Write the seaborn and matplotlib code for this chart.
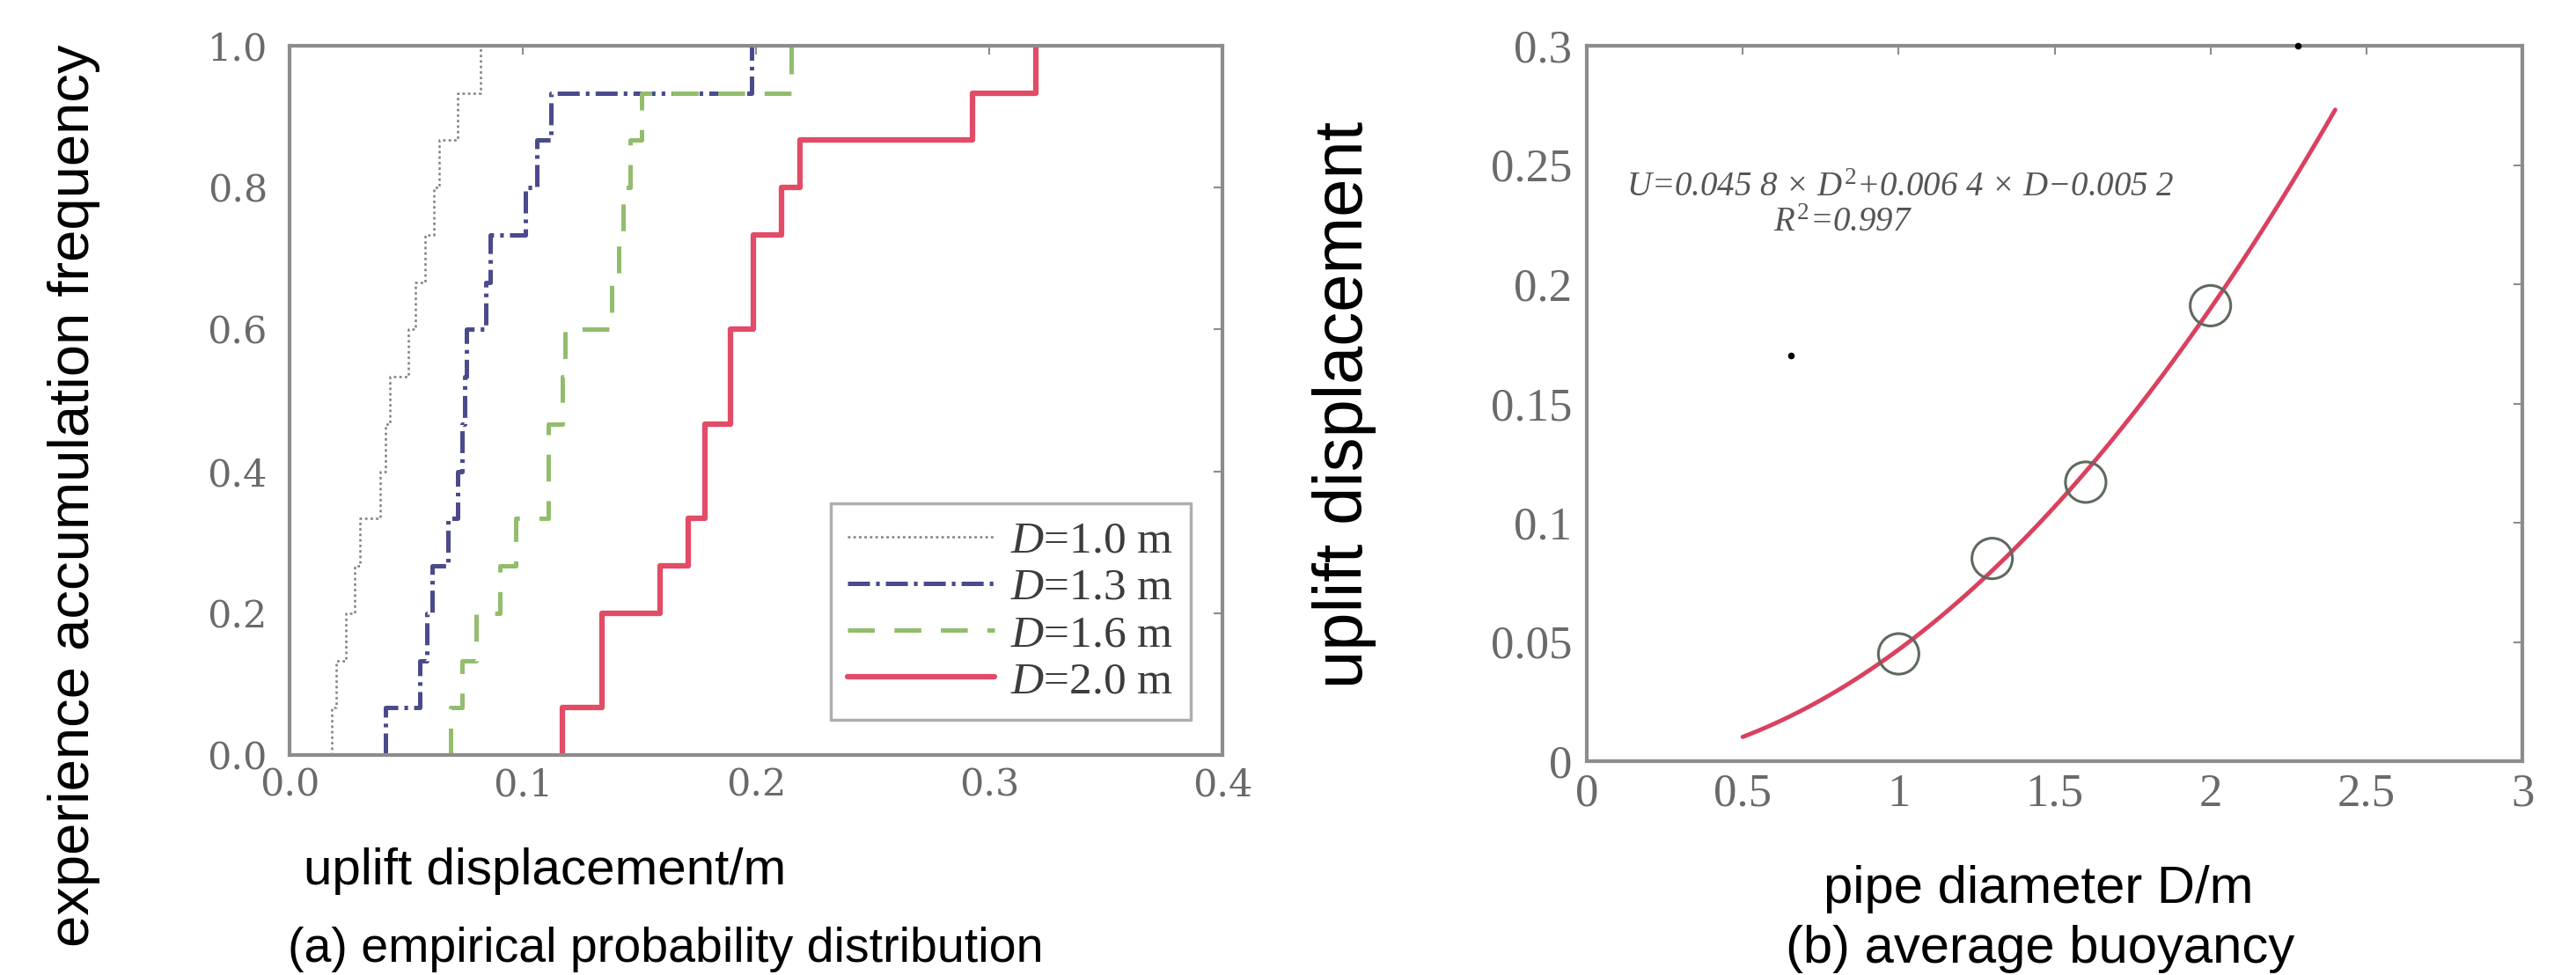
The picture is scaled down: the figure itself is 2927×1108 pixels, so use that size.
import numpy as np
import pandas as pd
import matplotlib
matplotlib.use("Agg")
import matplotlib.pyplot as plt
import seaborn as sns

# ---------------- data ----------------
# (a) uplift displacement samples (m) for each pipe diameter, 15 samples each
uplift_d10 = [0.018, 0.020, 0.024, 0.028, 0.030, 0.039, 0.041, 0.043,
              0.051, 0.054, 0.058, 0.062, 0.064, 0.072, 0.082]
uplift_d13 = [0.041, 0.056, 0.059, 0.061, 0.068, 0.072, 0.074, 0.075,
              0.076, 0.084, 0.086, 0.101, 0.106, 0.112, 0.198]
uplift_d16 = [0.069, 0.074, 0.080, 0.090, 0.097, 0.111, 0.111, 0.117,
              0.118, 0.138, 0.141, 0.143, 0.146, 0.151, 0.215]
uplift_d20 = [0.117, 0.134, 0.134, 0.159, 0.171, 0.178, 0.178, 0.189,
              0.189, 0.199, 0.199, 0.211, 0.219, 0.293, 0.320]
series_labels = [r"$D$=1.0 m", r"$D$=1.3 m", r"$D$=1.6 m", r"$D$=2.0 m"]

# (b) average uplift vs pipe diameter
pipe_diameter = [1.0, 1.3, 1.6, 2.0]
mean_uplift = [0.045, 0.085, 0.117, 0.191]
fit_span = [0.5, 2.4]
stray_x = [0.655, 2.28]
stray_y = [0.170, 0.300]
equation_line1 = "$U$=0.045 8 × $D^2$+0.006 4 × $D$−0.005 2"
equation_line2 = "$R^2$=0.997"

a_xticks = [0.0, 0.1, 0.2, 0.3, 0.4]
a_xticklabels = ["0.0", "0.1", "0.2", "0.3", "0.4"]
a_yticks = [0.0, 0.2, 0.4, 0.6, 0.8, 1.0]
a_yticklabels = ["0.0", "0.2", "0.4", "0.6", "0.8", "1.0"]
b_xticks = [0, 0.5, 1, 1.5, 2, 2.5, 3]
b_xticklabels = ["0", "0.5", "1", "1.5", "2", "2.5", "3"]
b_yticks = [0, 0.05, 0.1, 0.15, 0.2, 0.25, 0.3]
b_yticklabels = ["0", "0.05", "0.1", "0.15", "0.2", "0.25", "0.3"]

# ---------------- style ----------------
sns.set_theme(style="white")
plt.rcParams['font.family'] = ['Liberation Sans', 'DejaVu Sans']
plt.rcParams['lines.scale_dashes'] = False
plt.rcParams['mathtext.fontset'] = 'custom'
plt.rcParams['mathtext.it'] = 'Liberation Serif:italic'
plt.rcParams['mathtext.rm'] = 'Liberation Serif'

W, H = 2927, 1108
fig = plt.figure(figsize=(W / 100, H / 100), dpi=100)
fig.patch.set_facecolor("white")


def px_axes(x0, y0, x1, y1):
    return fig.add_axes([x0 / W, 1 - y1 / H, (x1 - x0) / W, (y1 - y0) / H])


ax1 = px_axes(329, 52, 1389, 858)
ax2 = px_axes(1803, 52, 2866, 865)

spine_c = "#8c8c8c"
tick_c = "#6a6a6a"
for ax in (ax1, ax2):
    for s in ax.spines.values():
        s.set_color(spine_c)
        s.set_linewidth(3)
        s.set_zorder(3)
    ax.tick_params(direction="in", length=7, width=1.5, color=spine_c,
                   top=True, right=True, labelcolor=tick_c)

# ---------------- (a) ECDF ----------------
styles = [
    dict(color="#7f7f7f", linestyle=(0, (2, 2.5)), linewidth=1.8),
    dict(color="#4a4a8c", linestyle=(0, (18, 5, 3, 5)), linewidth=3.6),
    dict(color="#92bd6c", linestyle=(0, (22, 16)), linewidth=3.6),
    dict(color="#e24c66", linestyle="-", linewidth=4.5),
]
for vals, st in zip([uplift_d10, uplift_d13, uplift_d16, uplift_d20], styles):
    sns.ecdfplot(x=vals, ax=ax1, **st)
    ln = ax1.lines[-1]
    xd = np.asarray(ln.get_xdata(), dtype=float).copy()
    xd[0] = xd[1]          # start the step at the first sample instead of -inf
    ln.set_xdata(xd)

ax1.set_xlim(0, 0.4)
ax1.set_ylim(0, 1.0)
ax1.set_xticks(a_xticks)
ax1.set_xticklabels(a_xticklabels, fontfamily="DejaVu Serif", fontsize=31)
ax1.set_yticks(a_yticks)
ax1.set_yticklabels(a_yticklabels, fontfamily="DejaVu Serif", fontsize=31)
ax1.tick_params(axis="x", pad=10)
ax1.tick_params(axis="y", pad=18)
ax1.set_xlabel("")
ax1.set_ylabel("")

leg = ax1.legend(handles=ax1.lines[:4], labels=series_labels,
                 loc="lower right", bbox_to_anchor=(0.966, 0.05),
                 borderaxespad=0, frameon=True, fancybox=False,
                 prop={"family": "Liberation Serif", "size": 37},
                 handlelength=3.25, handletextpad=0.35, labelspacing=0.12,
                 borderpad=0.38)
leg.get_frame().set_edgecolor("#9a9a9a")
leg.get_frame().set_linewidth(2.5)
for t in leg.get_texts():
    t.set_color("#3c3c3c")

# ---------------- (b) average buoyancy ----------------
ax2.set_xlim(fit_span[0], fit_span[1])
sns.regplot(x=pipe_diameter, y=mean_uplift, order=2, ci=None, truncate=False,
            scatter=False, ax=ax2,
            line_kws=dict(color="#d9415f", linewidth=3.5))
sns.scatterplot(x=pipe_diameter, y=mean_uplift, ax=ax2, marker="o", s=1100,
                facecolor="none", edgecolor="#5e6a5e", linewidth=2.2, zorder=4)
sns.scatterplot(x=stray_x, y=stray_y, ax=ax2, color="black", s=30,
                linewidth=0, clip_on=False, zorder=5)
ax2.set_xlim(0, 3)
ax2.set_ylim(0, 0.3)
ax2.set_xticks(b_xticks)
ax2.set_xticklabels(b_xticklabels, fontfamily="Liberation Serif", fontsize=38)
ax2.set_yticks(b_yticks)
ax2.set_yticklabels(b_yticklabels, fontfamily="Liberation Serif", fontsize=38)
ax2.tick_params(axis="x", pad=10)
ax2.tick_params(axis="y", pad=12)
ax2.set_xlabel("")
ax2.set_ylabel("")

ax2.text(1.006, 0.2405, equation_line1, ha="center", va="center",
         fontfamily="Liberation Serif", style="italic", fontsize=28,
         color="#555555")
ax2.text(0.82, 0.2255, equation_line2, ha="center", va="center",
         fontfamily="Liberation Serif", style="italic", fontsize=28,
         color="#555555")

# ---------------- figure texts ----------------
def ftext(x, y, s, **kw):
    fig.text(x / W, 1 - y / H, s, **kw)

ftext(84, 563, "experience accumulation frequency", rotation=90,
      ha="center", va="center", fontsize=47, color="black")
ftext(345, 990, "uplift displacement/m", ha="left", va="center",
      fontsize=42, color="black")
ftext(327, 1079, "(a) empirical probability distribution", ha="left",
      va="center", fontsize=40, color="black")
ftext(1527, 460, "uplift displacement", rotation=90, ha="center",
      va="center", fontsize=56, color="black")
ftext(2072, 1010, "pipe diameter D/m", ha="left", va="center",
      fontsize=43, color="black")
ftext(2029, 1079, "(b) average buoyancy", ha="left", va="center",
      fontsize=43, color="black")

fig.savefig("out.png", dpi=100, facecolor="white")
